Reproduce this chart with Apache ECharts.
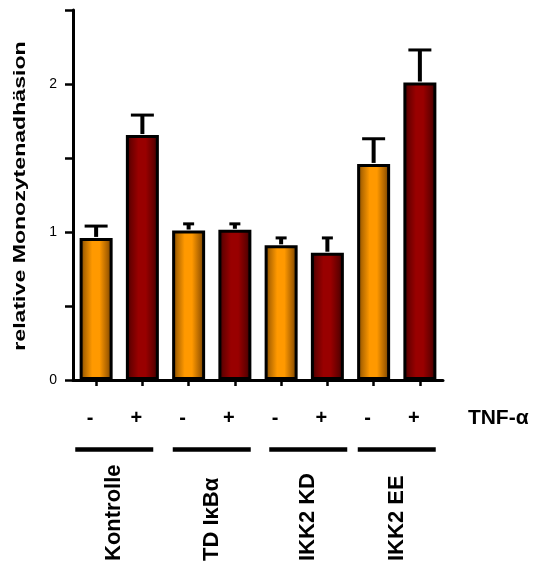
<!DOCTYPE html>
<html>
<head>
<meta charset="utf-8">
<script src="https://cdn.jsdelivr.net/npm/echarts@6/dist/echarts.min.js"></script>
<style>
  html, body { margin: 0; padding: 0; background: #fff; }
  #chart { width: 534px; height: 564px; }
</style>
</head>
<body>
<div id="chart"></div>
<script>
// Cell groups and TNF-alpha treatment
const groups = ['Kontrolle', 'TD IκBα', 'IKK2 KD', 'IKK2 EE'];
const tnfSigns = ['-', '+'];
const tnfTitle = 'TNF-α';
const yAxisTitle = 'relative Monozytenadhäsion';

// Relative monocyte adhesion (mean) and error (SEM)
const meanWithoutTNF = [0.96, 1.01, 0.91, 1.46];
const meanWithTNF = [1.655, 1.015, 0.86, 2.01];
const errWithoutTNF = [0.08, 0.045, 0.05, 0.17];
const errWithTNF = [0.135, 0.04, 0.10, 0.22];

// y-axis ticks: every 0.5, labelled at whole numbers
const yTickValues = [0, 0.5, 1, 1.5, 2, 2.5];
const yTickLabels = ['0', '', '1', '', '2', ''];

const FONT = '"Liberation Sans", Arial, sans-serif';

// one category per bar: group x treatment
const categories = [];
const means = [];
const errs = [];
groups.forEach((g, gi) => {
  categories.push(g + ' ' + tnfSigns[0]);
  means.push(meanWithoutTNF[gi]);
  errs.push(errWithoutTNF[gi]);
  categories.push(g + ' ' + tnfSigns[1]);
  means.push(meanWithTNF[gi]);
  errs.push(errWithTNF[gi]);
});

const orangeFill = new echarts.graphic.LinearGradient(0, 0, 1, 0, [
  { offset: 0, color: '#6e4000' },
  { offset: 0.15, color: '#b56a00' },
  { offset: 0.38, color: '#ff9900' },
  { offset: 0.6, color: '#ff9900' },
  { offset: 0.85, color: '#a86000' },
  { offset: 1, color: '#5e3600' }
]);
const redFill = new echarts.graphic.LinearGradient(0, 0, 1, 0, [
  { offset: 0, color: '#330000' },
  { offset: 0.15, color: '#6a0000' },
  { offset: 0.38, color: '#990000' },
  { offset: 0.6, color: '#990000' },
  { offset: 0.85, color: '#620000' },
  { offset: 1, color: '#2a0000' }
]);

// error bar cap widths (px), per bar
const capWidths = [23, 23, 11, 11, 11, 11, 23, 23];

const chart = echarts.init(document.getElementById('chart'), null, { renderer: 'canvas' });

chart.setOption({
  animation: false,
  backgroundColor: '#fff',
  textStyle: { fontFamily: FONT },
  grid: { left: 73, right: 91, top: 10, bottom: 184, containLabel: false },
  xAxis: {
    type: 'category',
    data: categories,
    axisLine: { show: true, onZero: false, lineStyle: { color: '#000', width: 3 } },
    axisTick: { show: true, alignWithLabel: true, length: 6, lineStyle: { color: '#000', width: 2.5 } },
    axisLabel: {
      show: true,
      interval: 0,
      margin: 28,
      color: '#000',
      fontFamily: FONT,
      fontWeight: 'bold',
      fontSize: 20,
      padding: [0, 12, 0, 0],
      formatter: (v, i) => tnfSigns[i % 2]
    },
    splitLine: { show: false }
  },
  yAxis: {
    type: 'value',
    min: 0,
    max: 2.5,
    interval: 0.5,
    axisLine: { show: true, lineStyle: { color: '#000', width: 3 } },
    axisTick: { show: true, length: 8, lineStyle: { color: '#000', width: 2.5 } },
    axisLabel: {
      show: true,
      margin: 16,
      color: '#000',
      fontFamily: FONT,
      fontSize: 14,
      formatter: (v) => {
        const k = yTickValues.findIndex(t => Math.abs(t - v) < 1e-9);
        return k >= 0 ? yTickLabels[k] : '';
      }
    },
    splitLine: { show: false }
  },
  series: [
    {
      type: 'bar',
      barWidth: 33,
      data: means.map((m, i) => ({
        value: m,
        itemStyle: {
          color: i % 2 === 0 ? orangeFill : redFill,
          borderColor: '#000',
          borderWidth: 3
        }
      })),
      z: 2
    },
    {
      type: 'custom',
      z: 3,
      data: means.map((m, i) => [i, m, m + errs[i]]),
      renderItem: (params, api) => {
        const i = api.value(0);
        const base = api.coord([i, api.value(1)]);
        const top = api.coord([i, api.value(2)]);
        const half = capWidths[params.dataIndex] / 2;
        return {
          type: 'group',
          children: [
            {
              type: 'line',
              shape: { x1: base[0], y1: base[1] - 1, x2: top[0], y2: top[1] },
              style: { stroke: '#000', lineWidth: 4 }
            },
            {
              type: 'line',
              shape: { x1: top[0] - half, y1: top[1], x2: top[0] + half, y2: top[1] },
              style: { stroke: '#000', lineWidth: 3 }
            }
          ]
        };
      }
    }
  ]
});

// group bars, group labels, treatment title and y-axis title
const groupShift = [-5, 0, 4, 0];
const graphics = [];
groups.forEach((g, gi) => {
  const a = chart.convertToPixel({ xAxisIndex: 0 }, categories[gi * 2]);
  const b = chart.convertToPixel({ xAxisIndex: 0 }, categories[gi * 2 + 1]);
  const cx = (a + b) / 2 + groupShift[gi];
  graphics.push({
    type: 'rect',
    shape: { x: cx - 39, y: 447.3, width: 78, height: 4.5 },
    style: { fill: '#000' }
  });
  graphics.push({
    type: 'text',
    x: cx,
    y: 561,
    rotation: Math.PI / 2,
    style: {
      text: g,
      fill: '#000',
      font: 'bold 22px ' + FONT,
      align: 'left',
      verticalAlign: 'middle'
    }
  });
});
const lastX = chart.convertToPixel({ xAxisIndex: 0 }, categories[categories.length - 1]);
graphics.push({
  type: 'text',
  x: lastX + 48,
  y: 418,
  style: {
    text: tnfTitle,
    fill: '#000',
    font: 'bold 21px ' + FONT,
    align: 'left',
    verticalAlign: 'middle'
  }
});
graphics.push({
  type: 'text',
  x: 20,
  y: 196,
  rotation: Math.PI / 2,
  scaleX: 1.4,
  style: {
    text: yAxisTitle,
    fill: '#000',
    font: 'bold 16.5px ' + FONT,
    align: 'center',
    verticalAlign: 'middle'
  }
});
chart.setOption({ graphic: graphics });
</script>
</body>
</html>
